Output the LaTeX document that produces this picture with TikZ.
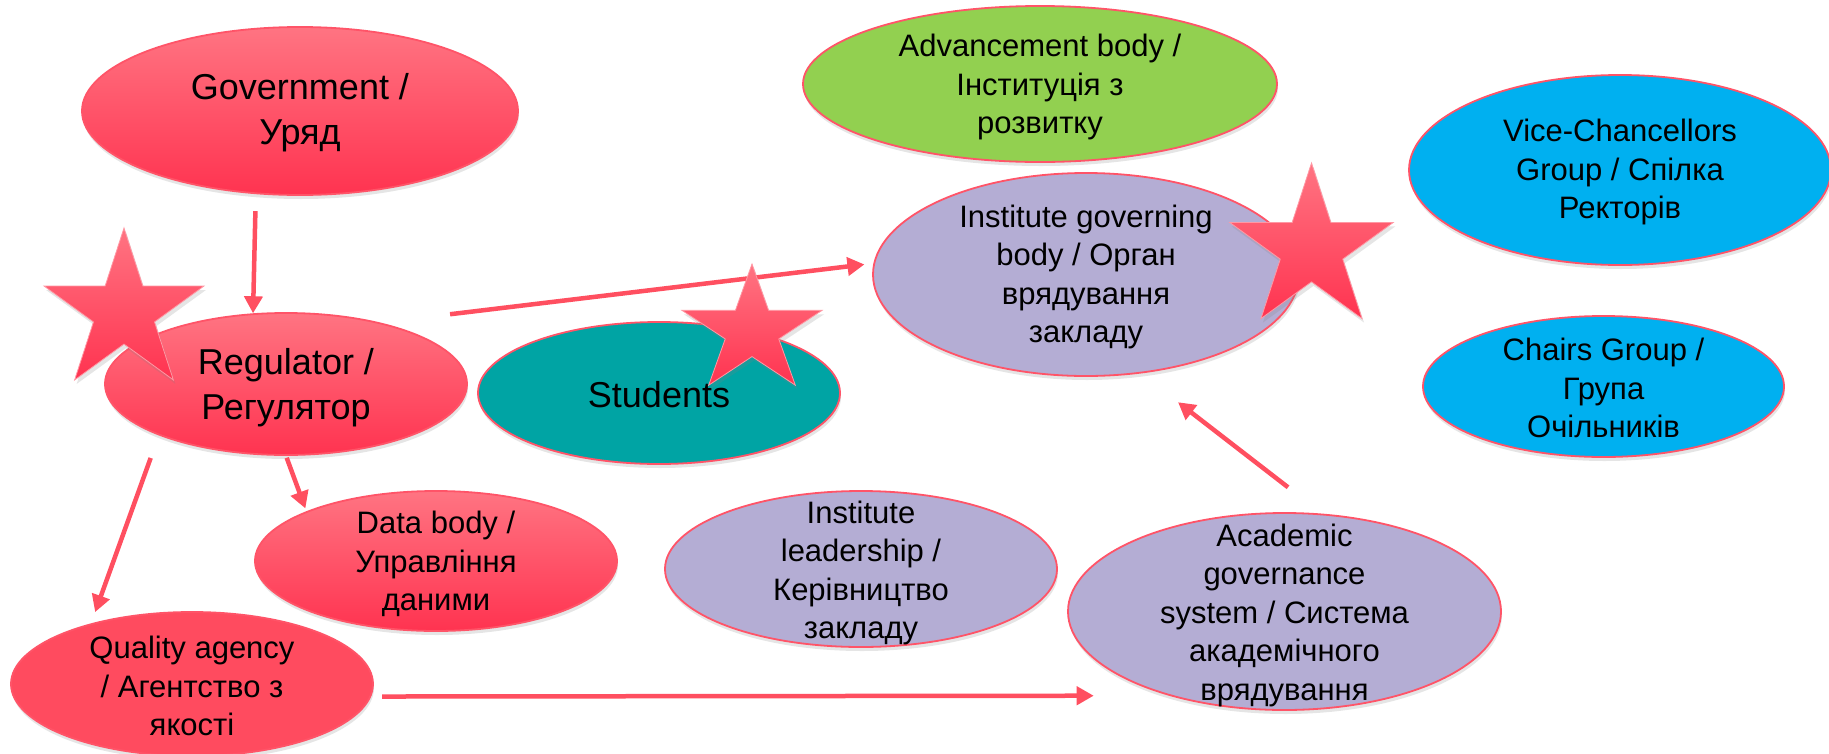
\documentclass[tikz,border=0pt]{standalone}
\usepackage{fontspec}
\setmainfont{Liberation Sans}
\usetikzlibrary{shapes.geometric,arrows.meta,shadows}
\definecolor{redtop}{HTML}{FF7482}
\definecolor{redbot}{HTML}{FF3350}
\definecolor{redflat}{HTML}{FF4B5F}
\definecolor{edgered}{HTML}{FF5468}
\definecolor{arrowred}{HTML}{FF4F60}
\definecolor{tealfill}{HTML}{00A4A4}
\definecolor{greenfill}{HTML}{92D050}
\definecolor{lavfill}{HTML}{B4ADD4}
\definecolor{bluefill}{HTML}{00B0F0}
\begin{document}
\begin{tikzpicture}[x=1pt,y=-1pt,
  oval/.style={ellipse, draw=edgered, line width=1.8pt, inner sep=0pt,
    drop shadow={opacity=0.2, shadow xshift=1pt, shadow yshift=-4pt}},
  lbl/.style={align=center, text=black, inner sep=0pt},
  bigtext/.style={font=\fontsize{36}{45}\selectfont},
  smalltext/.style={font=\fontsize{31}{38.5}\selectfont},
  redgrad/.style={top color=redtop, bottom color=redbot},
  arr/.style={draw=arrowred, line width=4.5pt, -{Triangle[length=17pt,width=18pt]}},
  starshape/.style={star, star points=5, star point ratio=2.618, inner sep=0pt, draw=edgered!60!white,
    line width=0.8pt, top color=redtop, bottom color=redbot,
    drop shadow={opacity=0.2, shadow xshift=2pt, shadow yshift=-4pt}}
]
\useasboundingbox (0,0) rectangle (1829,753);
\fill[white] (0,0) rectangle (1829,753);

% shapes
\node[oval, redgrad, minimum width=436pt, minimum height=168pt] (gov) at (300,111) {};
\node[oval, redgrad, minimum width=362pt, minimum height=142pt] (reg) at (286,384) {};
\node[oval, redgrad, minimum width=362pt, minimum height=140pt] (data) at (436,561) {};
\node[oval, fill=redflat, minimum width=362pt, minimum height=144pt] (qual) at (192,684) {};
\node[oval, fill=tealfill, minimum width=362pt, minimum height=142pt] (stud) at (659,393) {};
\node[oval, fill=lavfill, minimum width=392pt, minimum height=156pt] (lead) at (861,569) {};
\node[oval, fill=greenfill, minimum width=474pt, minimum height=156pt] (adv) at (1040,84) {};
\node[oval, fill=lavfill, minimum width=426pt, minimum height=203pt] (igov) at (1086,274.5) {};
\node[oval, fill=bluefill, minimum width=422pt, minimum height=190pt] (vice) at (1620,170) {};
\node[oval, fill=bluefill, minimum width=361pt, minimum height=141pt] (chairs) at (1603.5,386.5) {};
\node[oval, fill=lavfill, minimum width=433pt, minimum height=197pt] (acad) at (1284.5,611.5) {};

% texts
\node[lbl, bigtext] (govT) at (300,113) {Government /\\Уряд};
\node[lbl, bigtext] (regT) at (286,388) {Regulator /\\Регулятор};
\node[lbl, smalltext] (dataT) at (436,564) {Data body /\\Управління\\даними};
\node[lbl, smalltext] (qualT) at (192,686) {Quality agency\\/ Агентство з\\якості};
\node[lbl, bigtext] (studT) at (659,395) {Students};
\node[lbl, smalltext] (leadT) at (861,573) {Institute\\leadership /\\Керівництво\\закладу};
\node[lbl, smalltext] (advT) at (1040,87) {Advancement body /\\Інституція з\\розвитку};
\node[lbl, smalltext] (igovT) at (1086,277) {Institute governing\\body / Орган\\врядування\\закладу};
\node[lbl, smalltext] (viceT) at (1620,172) {Vice-Chancellors\\Group / Спілка\\Ректорів};
\node[lbl, smalltext] (chairsT) at (1603.5,388) {Chairs Group /\\Група\\Очільників};
\node[lbl, smalltext] (acadT) at (1284.5,615) {Academic\\governance\\system / Система\\академічного\\врядування};

% connectors
\draw[arr, shorten <=17pt] (gov.242) -- (reg.115);
\draw[arr, shorten <=70pt, shorten >=9pt] (reg.33) -- (igov.177);
\draw[arr, shorten <=24pt, shorten >=12pt] (reg.202) -- (qual.149);
\draw[arr, shorten <=2pt, shorten >=3pt] (reg.270) -- (data.159);
\draw[arr, shorten <=11pt, shorten >=75pt] (qual.356) -- (acad.216);
\draw[arr, shorten <=43pt, shorten >=47pt] (acad.69) -- (igov.299);

% stars
\node[starshape, minimum size=168pt] (star1) at (124,312) {};
\begin{scope}[shift={(752,331)}]
\node[starshape, minimum size=134pt, xscale=1.1, transform shape] (star2) at (0,0) {};
\end{scope}
\node[starshape, minimum size=172pt] (star3) at (1311.5,249) {};
\end{tikzpicture}
\end{document}
